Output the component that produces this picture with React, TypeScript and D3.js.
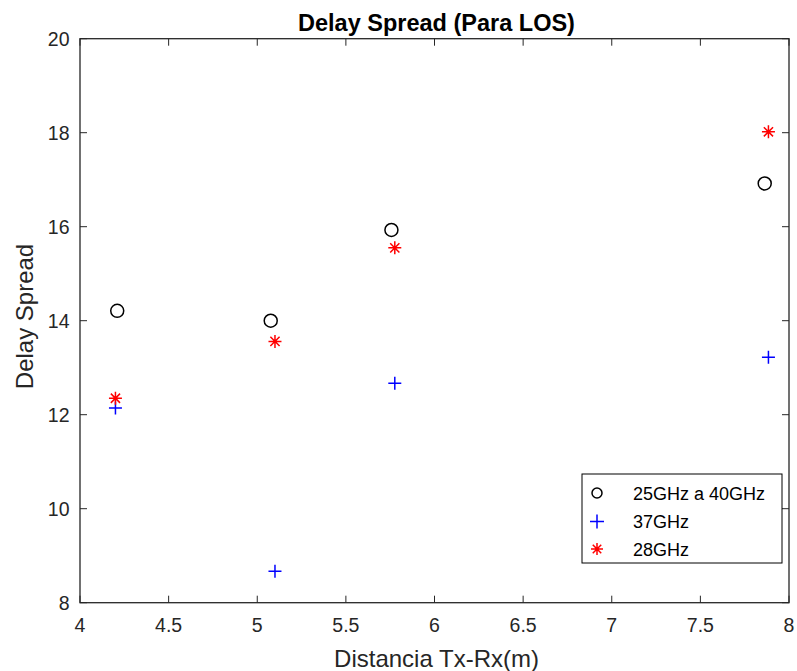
import React from "react";
import * as d3 from "d3";

const circleX = [4.21, 5.076, 5.757, 7.863];
const circleY = [14.21, 14.0, 15.93, 16.92];
const plusX = [4.2, 5.1, 5.776, 7.884];
const plusY = [12.14, 8.67, 12.67, 13.22];
const starX = [4.2, 5.1, 5.776, 7.884];
const starY = [12.35, 13.56, 15.55, 18.02];
const xTicks = [4, 4.5, 5, 5.5, 6, 6.5, 7, 7.5, 8];
const yTicks = [8, 10, 12, 14, 16, 18, 20];
const legendLabels = ["25GHz a 40GHz", "37GHz", "28GHz"];

const W = 797, H = 671;
const L = 80, R = 789, T = 38.7, B = 602.7;
const FONT = "'Liberation Sans', Arial, Helvetica, sans-serif";
const AX = "#262626";

function Circle({ x, y, r = 6.5 }: { x: number; y: number; r?: number }) {
  return <circle cx={x} cy={y} r={r} fill="none" stroke="#000" strokeWidth={1.5} />;
}
function Plus({ x, y, s = 6.5 }: { x: number; y: number; s?: number }) {
  return (
    <path d={`M${x - s},${y}H${x + s}M${x},${y - s}V${y + s}`} stroke="#0000ff" strokeWidth={1.5} fill="none" />
  );
}
function Star({ x, y, s = 6.5 }: { x: number; y: number; s?: number }) {
  const d = s * 0.707;
  return (
    <path
      d={`M${x - s},${y}H${x + s}M${x},${y - s}V${y + s}M${x - d},${y - d}L${x + d},${y + d}M${x - d},${y + d}L${x + d},${y - d}`}
      stroke="#ff0000"
      strokeWidth={1.5}
      fill="none"
    />
  );
}

export default function App() {
  const x = d3.scaleLinear().domain([4, 8]).range([L, R]);
  const y = d3.scaleLinear().domain([8, 20]).range([B, T]);
  const tl = 7;
  const lx = 582, ly = 474, lw = 200, lh = 89;
  const rows = [493, 521.5, 549];
  return (
    <svg width={W} height={H} style={{ position: "absolute", left: 0, top: 0, background: "#fff" }} fontFamily={FONT}>
      <rect x={0} y={0} width={W} height={H} fill="#fff" />
      {xTicks.map((t, i) => (
        <g key={"xt" + i}>
          <line x1={x(t)} x2={x(t)} y1={B} y2={B - tl} stroke={AX} strokeWidth={1} />
          <line x1={x(t)} x2={x(t)} y1={T} y2={T + tl} stroke={AX} strokeWidth={1} />
          <text x={x(t)} y={631.5} textAnchor="middle" fontSize={19.5} fill={AX}>{String(t)}</text>
        </g>
      ))}
      {yTicks.map((t, i) => (
        <g key={"yt" + i}>
          <line x1={L} x2={L + tl} y1={y(t)} y2={y(t)} stroke={AX} strokeWidth={1} />
          <line x1={R} x2={R - tl} y1={y(t)} y2={y(t)} stroke={AX} strokeWidth={1} />
          <text x={69.5} y={y(t) + 7.3} textAnchor="end" fontSize={19.5} fill={AX}>{String(t)}</text>
        </g>
      ))}
      <rect x={L} y={T} width={R - L} height={B - T} fill="none" stroke={AX} strokeWidth={1.3} />
      {circleX.map((v, i) => <Circle key={"c" + i} x={x(v)} y={y(circleY[i])} />)}
      {plusX.map((v, i) => <Plus key={"p" + i} x={x(v)} y={y(plusY[i])} />)}
      {starX.map((v, i) => <Star key={"s" + i} x={x(v)} y={y(starY[i])} />)}
      <rect x={lx} y={ly} width={lw} height={lh} fill="#fff" stroke="#000" strokeWidth={1} />
      <Circle x={597} y={rows[0]} r={5} />
      <Plus x={597} y={rows[1]} s={7} />
      <Star x={597} y={rows[2]} s={6} />
      {legendLabels.map((s, i) => (
        <text key={"l" + i} x={633} y={rows[i] + 6.5} fontSize={18} fill="#000">{s}</text>
      ))}
      <text x={(L + R) / 2 + 2} y={31} textAnchor="middle" fontSize={23.5} fontWeight="bold" fill="#000">Delay Spread (Para LOS)</text>
      <text x={(L + R) / 2 + 2} y={667} textAnchor="middle" fontSize={24} fill={AX}>Distancia Tx-Rx(m)</text>
      <text transform={`translate(33,${316.5}) rotate(-90)`} textAnchor="middle" fontSize={24} fill={AX}>Delay Spread</text>
    </svg>
  );
}
